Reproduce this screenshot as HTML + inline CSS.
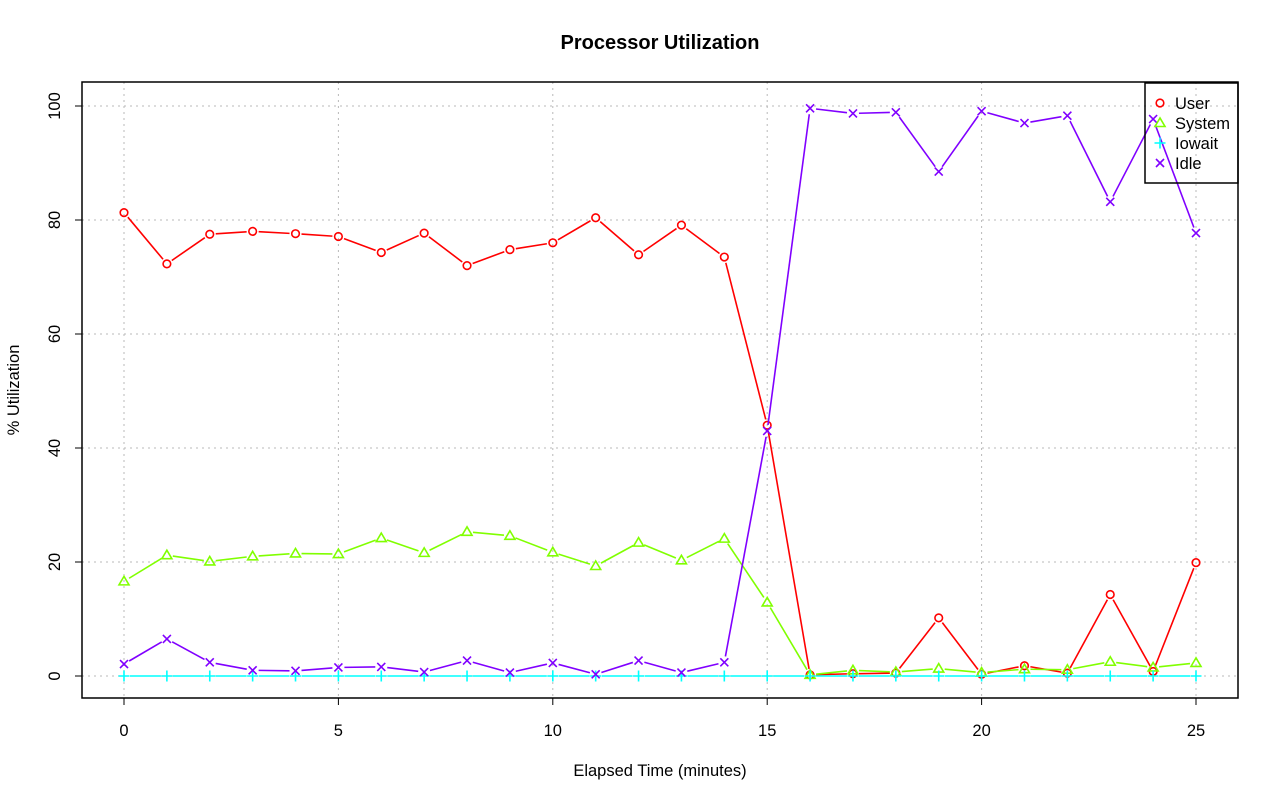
<!DOCTYPE html>
<html><head><meta charset="utf-8"><style>
html,body{margin:0;padding:0;background:#fff}
svg{display:block;font-family:"Liberation Sans",Arial,sans-serif}
</style></head><body>
<svg id="s" width="1280" height="801" xmlns="http://www.w3.org/2000/svg">
<rect width="1280" height="801" fill="#fff"/>
<g id="grid" stroke="#b8b8b8" stroke-dasharray="2,4" stroke-width="1"></g>
<g id="data"></g>
<rect x="82" y="82" width="1156" height="616" fill="none" stroke="#000" stroke-width="1.5"/>
<g id="ticks" stroke="#000" stroke-width="1"></g>
<text x="660" y="49" text-anchor="middle" font-size="20" font-weight="bold">Processor Utilization</text>
<text x="660" y="776" text-anchor="middle" font-size="16.5">Elapsed Time (minutes)</text>
<text transform="translate(19,390) rotate(-90)" text-anchor="middle" font-size="16.5">% Utilization</text>
<g font-size="16.5" text-anchor="middle">
<text x="124" y="736">0</text><text x="338.4" y="736">5</text><text x="552.8" y="736">10</text><text x="767.2" y="736">15</text><text x="981.6" y="736">20</text><text x="1196" y="736">25</text>
<text transform="translate(60,676) rotate(-90)">0</text>
<text transform="translate(60,562) rotate(-90)">20</text>
<text transform="translate(60,448) rotate(-90)">40</text>
<text transform="translate(60,334) rotate(-90)">60</text>
<text transform="translate(60,220) rotate(-90)">80</text>
<text transform="translate(60,106) rotate(-90)">100</text>
</g>
<rect x="1145" y="83" width="93" height="100" fill="none" stroke="#000" stroke-width="1.5"/>
<g font-size="16.5">
<text x="1175" y="109">User</text><text x="1175" y="129">System</text><text x="1175" y="149">Iowait</text><text x="1175" y="169">Idle</text>
</g>
<g id="leg"></g>
</svg>
<script>
const NS="http://www.w3.org/2000/svg";
const X=v=>124+v*42.88, Y=v=>676-v*5.7;
function el(p,t,a){const e=document.createElementNS(NS,t);for(const k in a)e.setAttribute(k,a[k]);document.getElementById(p).appendChild(e);return e;}
for(let i=0;i<=25;i+=5){el("grid","line",{x1:X(i),x2:X(i),y1:82,y2:698});el("ticks","line",{x1:X(i),x2:X(i),y1:698,y2:705});}
for(let v=0;v<=100;v+=20){el("grid","line",{x1:82,x2:1238,y1:Y(v),y2:Y(v)});el("ticks","line",{x1:75,x2:82,y1:Y(v),y2:Y(v)});}
const S={
"#ff0000":[81.3,72.3,77.5,78,77.6,77.1,74.3,77.7,72,74.8,76,80.4,73.9,79.1,73.5,44,0.2,0.4,0.5,10.2,0.3,1.8,0.5,14.3,0.8,19.9],
"#80ff00":[16.6,21.2,20.1,21,21.5,21.4,24.2,21.6,25.3,24.6,21.7,19.3,23.4,20.3,24.1,12.9,0.2,1.0,0.7,1.3,0.6,1.2,1.1,2.5,1.5,2.3],
"#00ffff":Array(26).fill(0),
"#8000ff":[2.1,6.5,2.4,1.0,0.9,1.5,1.6,0.7,2.7,0.6,2.3,0.3,2.7,0.6,2.4,43,99.6,98.7,98.9,88.5,99.1,97,98.3,83.2,97.7,77.7]};
const types={"#ff0000":"o","#80ff00":"t","#00ffff":"p","#8000ff":"x"};
function mark(p,t,x,y,c){
 if(t=="o")el(p,"circle",{cx:x,cy:y,r:3.8,fill:"none",stroke:c,"stroke-width":1.6});
 else if(t=="t")el(p,"polygon",{points:`${x},${y-5} ${x-5},${y+3.5} ${x+5},${y+3.5}`,fill:"none",stroke:c,"stroke-width":1.6});
 else if(t=="p")el(p,"path",{d:`M${x-5.5},${y}H${x+5.5}M${x},${y-5.5}V${y+5.5}`,stroke:c,"stroke-width":1.6});
 else el(p,"path",{d:`M${x-4},${y-4}L${x+4},${y+4}M${x-4},${y+4}L${x+4},${y-4}`,stroke:c,"stroke-width":1.6});
}
for(const c in S){const d=S[c];
 for(let i=0;i<25;i++){const x1=X(i),y1=Y(d[i]),x2=X(i+1),y2=Y(d[i+1]);const dx=x2-x1,dy=y2-y1,L=Math.hypot(dx,dy),g=6;
  if(L>2*g)el("data","line",{x1:x1+dx/L*g,y1:y1+dy/L*g,x2:x2-dx/L*g,y2:y2-dy/L*g,stroke:c,"stroke-width":1.6});}
 d.forEach((v,i)=>mark("data",types[c],X(i),Y(v),c));}
mark("leg","o",1160,103,"#ff0000");mark("leg","t",1160,123,"#80ff00");mark("leg","p",1160,143,"#00ffff");mark("leg","x",1160,163,"#8000ff");
</script>
</body></html>
